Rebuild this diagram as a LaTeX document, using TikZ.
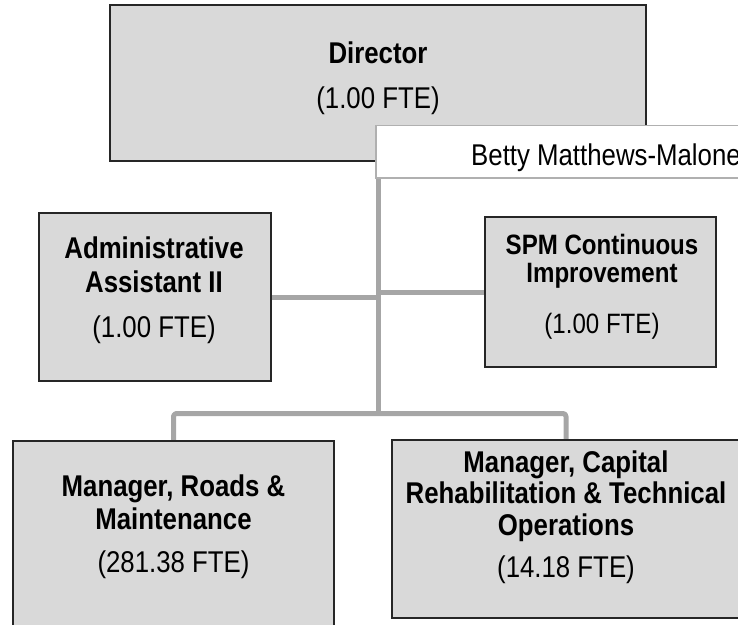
\documentclass[tikz,border=0pt]{standalone}
\usepackage{fontspec}
\usetikzlibrary{backgrounds}
\newfontfamily\arn{Liberation Sans}[FakeStretch=0.86]
\definecolor{boxfill}{HTML}{D9D9D9}
\definecolor{boxline}{HTML}{262626}
\definecolor{connc}{HTML}{A6A6A6}
\definecolor{bline}{HTML}{B0B0B0}
\begin{document}
\begin{tikzpicture}[x=1pt,y=-1pt,
  box/.style={draw=boxline,fill=boxfill,line width=1.5pt,inner sep=0pt},
  namebox/.style={draw=bline,fill=white,line width=1.5pt,inner sep=0pt},
  conn/.style={draw=connc,line width=5pt,line join=round},
  bt/.style={font=\arn\bfseries\fontsize{30}{33}\selectfont,anchor=base,inner sep=0pt},
  rt/.style={font=\arn\fontsize{30}{33}\selectfont,anchor=base,inner sep=0pt},
  bts/.style={font=\arn\bfseries\fontsize{28}{30}\selectfont,anchor=base,inner sep=0pt},
  rts/.style={font=\arn\fontsize{28}{30}\selectfont,anchor=base,inner sep=0pt}]
\useasboundingbox (0,0) rectangle (738,624);
\clip (0,0) rectangle (738,624);
% boxes
\node[box,minimum width=536pt,minimum height=156pt] (dir) at (378,83) {};
\node[box,minimum width=232pt,minimum height=168pt] (adm) at (155,297) {};
\node[box,minimum width=231pt,minimum height=150pt] (spm) at (600.5,292) {};
\node[box,minimum width=321pt,minimum height=199pt] (roads) at (173.5,540.5) {};
\node[box,minimum width=348pt,minimum height=178pt] (cap) at (566,529) {};
\node[namebox,minimum width=464pt,minimum height=52.5pt] (betty) at (608,151.75) {};
\coordinate (bar) at (378.5,413.5);
% connectors, behind the boxes
\begin{pgfonlayer}{background}
\draw[conn] (dir.south -| bar) -- (bar);
\draw[conn,rounded corners=3pt] (roads.north) |- (bar) -| (cap.north);
\draw[conn] (adm.east) -- (adm.east -| bar);
\draw[conn] (spm.west) -- (spm.west -| bar);
\end{pgfonlayer}
% texts
\node[bt] (dirT1) at (378,63) {Director};
\node[rt] (dirT2) at (378,108) {(1.00 FTE)};
\node[rt,anchor=base west] (bettyT) at (471,165) {Betty Matthews-Malone};
\node[bt] (admT1) at (154,258) {Administrative};
\node[bt] (admT2) at (154,292) {Assistant II};
\node[rt] (admT3) at (154,337) {(1.00 FTE)};
\node[bts] (spmT1) at (602,254) {SPM Continuous};
\node[bts] (spmT2) at (602,282) {Improvement};
\node[rts] (spmT3) at (602,333) {(1.00 FTE)};
\node[bt] (roadsT1) at (173.5,496) {Manager, Roads \&};
\node[bt] (roadsT2) at (173.5,529) {Maintenance};
\node[rt] (roadsT3) at (173.5,572) {(281.38 FTE)};
\node[bt] (capT1) at (566,472) {Manager, Capital};
\node[bt] (capT2) at (566,503) {Rehabilitation \& Technical};
\node[bt] (capT3) at (566,535) {Operations};
\node[rt] (capT4) at (566,577) {(14.18 FTE)};
\end{tikzpicture}
\end{document}
